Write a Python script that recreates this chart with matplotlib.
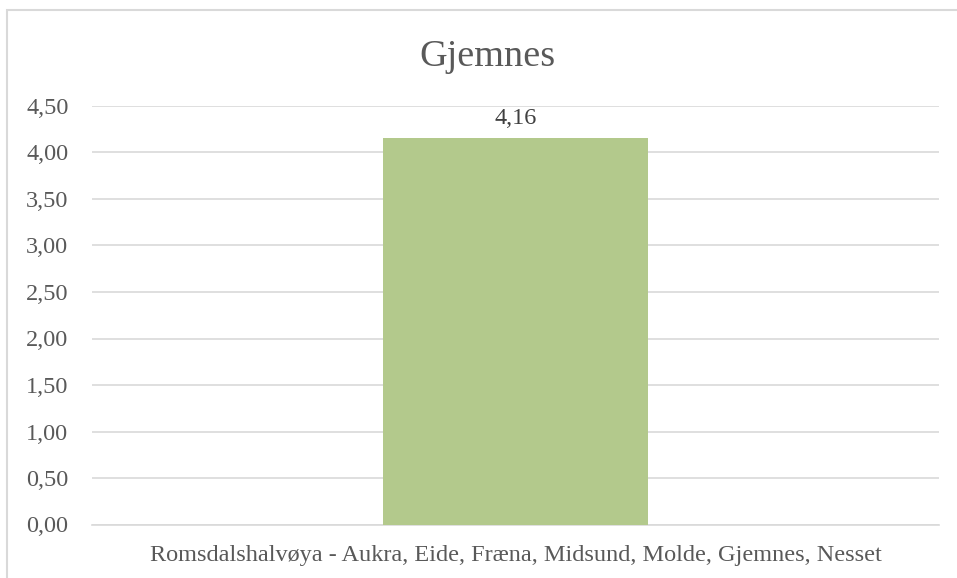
import matplotlib.pyplot as plt
from matplotlib.patches import Rectangle
from matplotlib.ticker import MultipleLocator, FuncFormatter

categories = ['Romsdalshalvøya - Aukra, Eide, Fræna, Midsund, Molde, Gjemnes, Nesset']
values = [4.16]
title = 'Gjemnes'

plt.rcParams['font.family'] = ['Liberation Serif', 'DejaVu Serif']
txt = '#595959'
grid = '#d9d9d9'

fig = plt.figure(figsize=(9.57, 5.78), dpi=100)
ax = fig.add_axes([92 / 957, 1 - 524.5 / 578, 847 / 957, (524.5 - 106) / 578])

bars = ax.bar(range(len(categories)), values, width=0.314, color='#b3c98c', zorder=3)
for b, v in zip(bars, values):
    ax.annotate(f'{v:.2f}'.replace('.', ','), (b.get_x() + b.get_width() / 2, v),
                xytext=(0, 10), textcoords='offset points', ha='center', va='baseline',
                fontsize=17.5, color='#404040', zorder=4)

ax.set_xlim(-0.5, 0.5)
ax.set_ylim(0, 4.5)
ax.yaxis.set_major_locator(MultipleLocator(0.5))
ax.yaxis.set_major_formatter(FuncFormatter(lambda y, p: f'{y:.2f}'.replace('.', ',')))
ax.set_xticks(range(len(categories)))
ax.set_xticklabels(categories)
ax.tick_params(axis='both', length=0, labelsize=17.5, colors=txt)
ax.tick_params(axis='x', pad=15)
ax.tick_params(axis='y', pad=17)
ax.grid(axis='y', color=grid, linewidth=1.2, zorder=0)
for s in ['top', 'right', 'left']:
    ax.spines[s].set_visible(False)
ax.spines['bottom'].set_color(grid)
ax.spines['bottom'].set_linewidth(1.2)

fig.text(487.5 / 957, 1 - 66 / 578, title, ha='center', va='baseline', fontsize=27.5, color=txt)

fig.patches.append(Rectangle((7 / 957, -0.1), 1.1, 1 - 10 / 578 + 0.1, transform=fig.transFigure,
                             fill=False, edgecolor=grid, linewidth=1.5))

fig.savefig('out.png', dpi=100)
